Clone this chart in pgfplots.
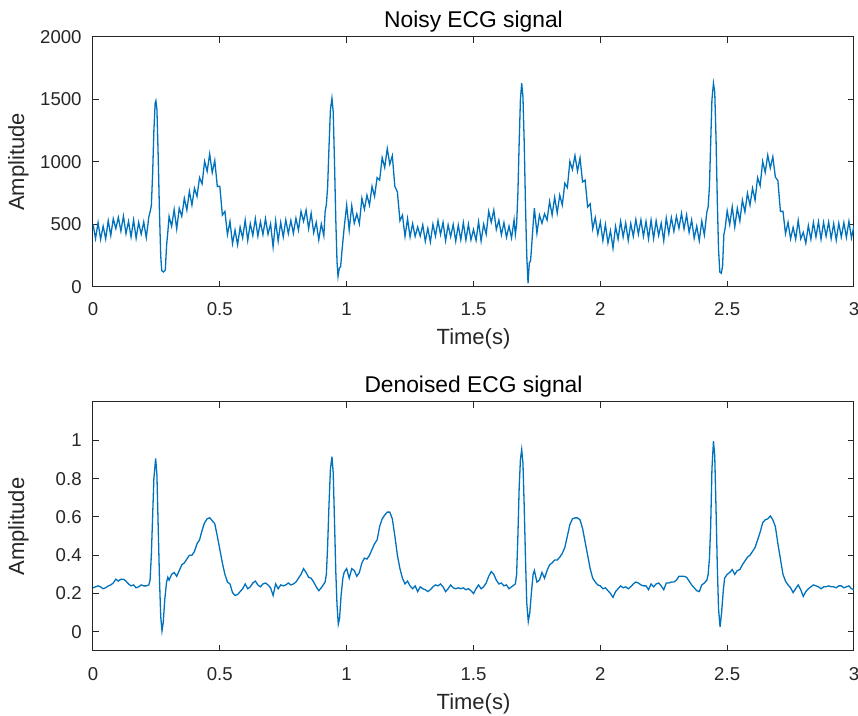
\documentclass[border=0pt]{standalone}
\usepackage{fontspec}
\setmainfont{Liberation Sans}
\usepackage{pgfplots}
\pgfplotsset{compat=1.18}
\definecolor{mblue}{rgb}{0,0.447,0.741}
\definecolor{mgray}{rgb}{0.15,0.15,0.15}
\pgfplotsset{
  matlab/.style={
    scale only axis, width=380.5pt,
    xmin=0, xmax=3, xtick={0,0.5,1,1.5,2,2.5,3},
    tick align=inside, tick pos=both, major tick length=2.8pt,
    axis line style={mgray, line width=0.5pt},
    every tick/.style={mgray, line width=0.5pt},
    tick label style={font=\fontsize{9.3}{11}\selectfont, text=mgray},
    xticklabel style={anchor=base, inner sep=0pt, yshift=-14.5pt},
    yticklabel style={anchor=east, inner sep=0pt, xshift=-5.5pt},
    /pgf/number format/assume math mode=true,
    /pgf/number format/fixed,
    /pgf/number format/1000 sep={},
    every axis title/.style={font=\fontsize{11.4}{13}\selectfont, text=black, at={(0.5,1)}, anchor=base, yshift=4.5pt},
    xlabel style={font=\fontsize{11}{13}\selectfont, text=mgray, at={(0.5,0)}, anchor=base, yshift=-29pt},
    every axis y label/.style={font=\fontsize{11}{13}\selectfont, text=mgray, at={(axis description cs:0,0.5)}, xshift=-37.25pt, rotate=90, anchor=center},
    xlabel={Time(s)}, ylabel={Amplitude},
  }
}
\begin{document}
\begin{tikzpicture}
\useasboundingbox (0,0) rectangle (429pt,-358pt);
\begin{axis}[matlab, at={(46.5pt,-143.5pt)}, anchor=south west, height=125pt,
  ymin=0, ymax=2000, ytick={0,500,1000,1500,2000},
  title={Noisy ECG signal}]
\addplot[mblue, line width=0.65pt] table {
0.00 505
0.01 387
0.02 515
0.03 382
0.04 487
0.05 385
0.06 530
0.07 412
0.08 547
0.09 467
0.10 557
0.11 447
0.12 567
0.13 427
0.14 525
0.15 400
0.16 537
0.17 390
0.18 517
0.19 422
0.20 520
0.21 395
0.22 560
0.225 600
0.23 650
0.235 900
0.24 1250
0.245 1470
0.248 1490
0.252 1420
0.257 1050
0.262 600
0.267 250
0.271 130
0.278 120
0.285 135
0.29 330
0.295 440
0.30 565
0.31 485
0.32 620
0.33 465
0.34 630
0.35 565
0.36 710
0.37 615
0.38 765
0.39 655
0.40 790
0.41 725
0.42 875
0.43 825
0.44 1005
0.45 925
0.46 1064
0.47 915
0.48 1012
0.49 805
0.50 805
0.51 575
0.52 605
0.53 420
0.54 525
0.55 347
0.56 455
0.57 337
0.58 480
0.59 392
0.60 535
0.61 372
0.62 507
0.63 412
0.64 547
0.65 407
0.66 522
0.67 420
0.68 547
0.69 422
0.70 505
0.71 320
0.72 530
0.73 367
0.74 517
0.75 400
0.76 537
0.77 427
0.78 532
0.79 430
0.80 550
0.81 455
0.82 605
0.83 525
0.84 615
0.85 467
0.86 590
0.87 435
0.88 517
0.89 377
0.90 505
0.91 410
0.915 600
0.92 660
0.925 800
0.93 1100
0.936 1420
0.942 1510
0.947 1400
0.952 1000
0.957 550
0.962 200
0.966 85
0.971 150
0.976 160
0.982 300
0.99 470
1.00 655
1.01 455
1.02 650
1.03 510
1.04 585
1.05 505
1.06 710
1.07 622
1.08 735
1.09 655
1.10 805
1.11 725
1.12 875
1.13 855
1.14 1035
1.15 955
1.16 1107
1.17 982
1.18 1050
1.19 805
1.20 760
1.21 530
1.22 575
1.23 405
1.24 547
1.25 400
1.26 507
1.27 405
1.28 480
1.29 407
1.30 497
1.31 365
1.32 470
1.33 360
1.34 502
1.35 407
1.36 530
1.37 420
1.38 517
1.39 370
1.40 497
1.41 402
1.42 500
1.43 367
1.44 495
1.45 377
1.46 515
1.47 375
1.48 502
1.49 377
1.50 460
1.51 372
1.52 522
1.53 367
1.54 502
1.55 422
1.56 605
1.57 517
1.58 615
1.59 460
1.60 535
1.61 417
1.62 515
1.63 397
1.64 487
1.65 392
1.66 537
1.665 420
1.67 500
1.675 750
1.68 1150
1.685 1500
1.69 1630
1.695 1520
1.70 1150
1.705 650
1.71 250
1.715 30
1.72 190
1.725 210
1.73 350
1.735 500
1.74 630
1.75 430
1.76 575
1.77 510
1.78 585
1.79 535
1.80 685
1.81 575
1.82 717
1.83 592
1.84 735
1.85 655
1.86 830
1.87 795
1.88 1005
1.89 940
1.90 1052
1.91 927
1.92 1032
1.93 840
1.94 855
1.95 640
1.96 665
1.97 465
1.98 555
1.99 422
2.00 520
2.01 372
2.02 500
2.03 352
2.04 450
2.05 310
2.06 485
2.07 382
2.08 525
2.09 400
2.10 512
2.11 372
2.12 507
2.13 405
2.14 540
2.15 422
2.16 537
2.17 405
2.18 525
2.19 385
2.20 535
2.21 387
2.22 530
2.23 412
2.24 510
2.25 370
2.26 552
2.27 427
2.28 555
2.29 445
2.30 565
2.31 470
2.32 590
2.33 465
2.34 577
2.35 437
2.36 537
2.37 390
2.38 487
2.39 370
2.40 527
2.41 417
2.42 600
2.425 640
2.43 800
2.435 1150
2.44 1500
2.446 1630
2.451 1560
2.456 1200
2.461 700
2.466 300
2.471 120
2.477 110
2.482 170
2.487 420
2.492 470
2.50 610
2.51 500
2.52 642
2.53 480
2.54 630
2.55 527
2.56 695
2.57 600
2.58 750
2.59 655
2.60 790
2.61 695
2.62 875
2.63 810
2.64 1005
2.65 917
2.66 1055
2.67 952
2.68 1042
2.69 880
2.70 850
2.71 605
2.72 605
2.73 427
2.74 517
2.75 385
2.76 477
2.77 382
2.78 532
2.79 385
2.80 437
2.81 350
2.82 492
2.83 382
2.84 517
2.85 400
2.86 522
2.87 382
2.88 517
2.89 407
2.90 520
2.91 387
2.92 507
2.93 375
2.94 510
2.95 400
2.96 515
2.97 397
2.98 525
2.99 392
3.00 490
};
\end{axis}
\begin{axis}[matlab, at={(46.5pt,-325.5pt)}, anchor=south west, height=124.5pt,
  ymin=-0.1, ymax=1.2, ytick={0,0.2,0.4,0.6,0.8,1},
  title={Denoised ECG signal}]
\addplot[mblue, line width=0.65pt] table {
0.00 0.23
0.01 0.235
0.02 0.24
0.03 0.235
0.04 0.225
0.05 0.23
0.06 0.24
0.07 0.245
0.08 0.255
0.09 0.275
0.10 0.265
0.11 0.275
0.12 0.275
0.13 0.265
0.14 0.25
0.15 0.24
0.16 0.245
0.17 0.23
0.18 0.235
0.19 0.245
0.20 0.24
0.21 0.24
0.22 0.245
0.225 0.27
0.23 0.40
0.235 0.60
0.24 0.80
0.247 0.905
0.252 0.82
0.257 0.55
0.262 0.28
0.267 0.08
0.272 0.005
0.277 0.05
0.283 0.17
0.29 0.26
0.295 0.285
0.30 0.27
0.31 0.30
0.32 0.31
0.33 0.29
0.34 0.32
0.35 0.35
0.36 0.36
0.37 0.38
0.38 0.40
0.39 0.40
0.40 0.42
0.41 0.46
0.42 0.48
0.43 0.53
0.44 0.57
0.45 0.59
0.46 0.596
0.47 0.58
0.48 0.565
0.49 0.50
0.50 0.43
0.51 0.36
0.52 0.30
0.53 0.26
0.54 0.25
0.55 0.205
0.56 0.19
0.57 0.195
0.58 0.21
0.59 0.225
0.60 0.25
0.61 0.225
0.62 0.235
0.63 0.255
0.64 0.265
0.65 0.245
0.66 0.235
0.67 0.25
0.68 0.255
0.69 0.245
0.70 0.23
0.71 0.19
0.72 0.25
0.73 0.225
0.74 0.245
0.75 0.24
0.76 0.245
0.77 0.255
0.78 0.245
0.79 0.25
0.80 0.26
0.81 0.28
0.82 0.30
0.83 0.33
0.84 0.31
0.85 0.285
0.86 0.28
0.87 0.26
0.88 0.235
0.89 0.215
0.90 0.23
0.91 0.25
0.915 0.26
0.92 0.30
0.925 0.45
0.93 0.65
0.936 0.85
0.942 0.915
0.947 0.83
0.952 0.58
0.957 0.32
0.962 0.14
0.967 0.04
0.972 0.07
0.978 0.19
0.985 0.28
0.99 0.31
1.00 0.33
1.01 0.28
1.02 0.33
1.03 0.32
1.04 0.29
1.05 0.31
1.06 0.36
1.07 0.385
1.08 0.38
1.09 0.40
1.10 0.43
1.11 0.46
1.12 0.48
1.13 0.55
1.14 0.59
1.15 0.61
1.16 0.625
1.17 0.625
1.18 0.59
1.19 0.50
1.20 0.40
1.21 0.33
1.22 0.28
1.23 0.25
1.24 0.265
1.25 0.24
1.26 0.225
1.27 0.24
1.28 0.21
1.29 0.235
1.30 0.225
1.31 0.22
1.32 0.21
1.33 0.22
1.34 0.235
1.35 0.245
1.36 0.24
1.37 0.25
1.38 0.235
1.39 0.21
1.40 0.225
1.41 0.245
1.42 0.23
1.43 0.225
1.44 0.23
1.45 0.225
1.46 0.23
1.47 0.22
1.48 0.225
1.49 0.215
1.50 0.20
1.51 0.225
1.52 0.245
1.53 0.225
1.54 0.235
1.55 0.255
1.56 0.29
1.57 0.315
1.58 0.30
1.59 0.27
1.60 0.25
1.61 0.255
1.62 0.24
1.63 0.245
1.64 0.225
1.65 0.235
1.66 0.245
1.665 0.25
1.67 0.30
1.675 0.50
1.68 0.75
1.685 0.90
1.69 0.952
1.695 0.88
1.70 0.65
1.705 0.38
1.71 0.15
1.716 0.054
1.722 0.10
1.728 0.20
1.735 0.30
1.74 0.32
1.75 0.26
1.76 0.27
1.77 0.31
1.78 0.28
1.79 0.32
1.80 0.35
1.81 0.36
1.82 0.375
1.83 0.375
1.84 0.39
1.85 0.41
1.86 0.44
1.87 0.50
1.88 0.56
1.89 0.59
1.90 0.595
1.91 0.595
1.92 0.585
1.93 0.54
1.94 0.47
1.95 0.40
1.96 0.33
1.97 0.28
1.98 0.26
1.99 0.245
2.00 0.24
2.01 0.225
2.02 0.23
2.03 0.215
2.04 0.20
2.05 0.18
2.06 0.21
2.07 0.225
2.08 0.24
2.09 0.23
2.10 0.235
2.11 0.225
2.12 0.235
2.13 0.25
2.14 0.26
2.15 0.255
2.16 0.245
2.17 0.24
2.18 0.24
2.19 0.22
2.20 0.25
2.21 0.235
2.22 0.25
2.23 0.255
2.24 0.24
2.25 0.22
2.26 0.255
2.27 0.255
2.28 0.26
2.29 0.26
2.30 0.27
2.31 0.29
2.32 0.29
2.33 0.29
2.34 0.285
2.35 0.265
2.36 0.245
2.37 0.23
2.38 0.215
2.39 0.21
2.40 0.245
2.41 0.255
2.42 0.27
2.425 0.30
2.43 0.38
2.435 0.55
2.44 0.85
2.446 0.995
2.451 0.92
2.456 0.65
2.461 0.35
2.466 0.12
2.472 0.026
2.478 0.10
2.485 0.22
2.49 0.28
2.50 0.30
2.51 0.31
2.52 0.325
2.53 0.30
2.54 0.32
2.55 0.325
2.56 0.35
2.57 0.37
2.58 0.39
2.59 0.40
2.60 0.42
2.61 0.44
2.62 0.48
2.63 0.52
2.64 0.57
2.65 0.585
2.66 0.59
2.67 0.605
2.68 0.585
2.69 0.55
2.70 0.46
2.71 0.38
2.72 0.30
2.73 0.265
2.74 0.245
2.75 0.23
2.76 0.205
2.77 0.225
2.78 0.245
2.79 0.22
2.80 0.185
2.81 0.21
2.82 0.225
2.83 0.235
2.84 0.245
2.85 0.24
2.86 0.235
2.87 0.225
2.88 0.235
2.89 0.235
2.90 0.24
2.91 0.235
2.92 0.235
2.93 0.23
2.94 0.24
2.95 0.24
2.96 0.23
2.97 0.235
2.98 0.24
2.99 0.225
3.00 0.22
};
\end{axis}
\end{tikzpicture}
\end{document}
